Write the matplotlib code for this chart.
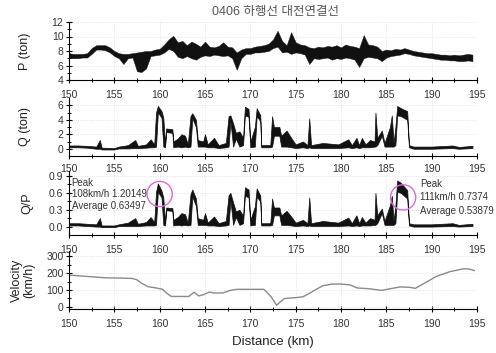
import numpy as np
import matplotlib
matplotlib.use("Agg")
import matplotlib.pyplot as plt

plt.rcParams['font.family'] = ['Liberation Sans', 'Noto Sans CJK KR', 'DejaVu Sans']

# ---- data ----
# P (ton): lower / upper edge of the noisy trace every 0.5 km
p_km = np.arange(150, 195, 0.5)
p_lo = [7.0, 7.0, 7.0, 7.1, 7.1, 7.6, 8.2, 8.2, 8.1, 7.8, 7.3, 7.0, 6.2, 7.0, 7.1, 5.2, 5.1, 5.6,
        7.3, 7.4, 7.5, 7.8, 8.3, 8.0, 7.2, 7.0, 7.3, 7.0, 6.8, 7.2, 7.4, 7.3, 7.5, 7.4, 7.3, 7.4,
        7.0, 5.4, 7.0, 7.6, 7.6, 7.8, 7.8, 7.9, 8.0, 8.4, 8.6, 7.8, 7.9, 7.6, 7.8, 7.7, 7.5, 6.2,
        7.0, 6.9, 7.0, 7.1, 6.8, 7.0, 6.9, 7.1, 7.0, 6.8, 5.8, 7.0, 7.2, 7.1, 7.0, 6.6, 7.1, 7.3,
        7.4, 7.5, 7.7, 7.6, 7.4, 7.3, 7.2, 7.1, 7.0, 6.9, 6.8, 6.8, 6.7, 6.7, 6.6, 6.6, 6.7, 6.6]
p_hi = [7.7, 7.6, 7.6, 7.6, 7.7, 8.4, 8.8, 8.8, 8.8, 8.5, 8.0, 7.7, 7.6, 7.6, 7.7, 7.8, 7.9, 8.0,
        8.0, 8.2, 8.3, 8.9, 9.6, 10.1, 9.2, 9.4, 8.8, 9.3, 9.0, 8.6, 9.3, 8.6, 8.5, 8.7, 9.2, 8.6,
        8.5, 7.8, 8.2, 8.4, 8.4, 8.6, 8.7, 8.8, 9.0, 9.6, 10.8, 9.4, 8.8, 10.6, 9.2, 8.9, 8.8, 8.5,
        8.4, 8.6, 8.5, 8.7, 8.6, 8.8, 8.5, 8.9, 8.7, 8.6, 8.4, 10.2, 8.9, 8.8, 8.6, 8.0, 8.2, 8.1,
        8.3, 8.2, 8.4, 8.2, 8.0, 7.9, 7.8, 7.7, 7.7, 7.6, 7.5, 7.5, 7.4, 7.5, 7.4, 7.5, 7.6, 7.5]

# Q (ton) and Q/P: lower / upper edge at break points of the trace
q_km = [150.0, 151.0, 152.0, 153.0, 153.4, 153.6, 155.0, 155.5, 156.5, 157.3, 157.6, 158.5,
        159.0, 159.4, 159.6, 159.8, 160.2, 160.4, 160.6, 160.7, 161.4, 161.5, 162.0, 162.4,
        162.8, 163.1, 163.4, 163.6, 164.0, 164.2, 164.8, 165.0, 165.3, 166.0, 166.5, 167.3,
        167.6, 167.8, 168.1, 168.4, 168.8, 169.2, 169.4, 169.8, 170.0, 170.5, 170.7, 171.1,
        171.2, 172.2, 172.4, 172.6, 173.2, 173.4, 174.0, 174.5, 175.0, 175.8, 176.3, 176.5,
        176.7, 178.0, 179.7, 180.8, 181.2, 181.7, 182.0, 182.3, 182.7, 183.2, 183.7, 183.8,
        184.0, 184.5, 184.8, 185.4, 185.6, 185.8, 186.0, 186.2, 186.6, 187.3, 187.5, 188.0,
        190.0, 192.3, 193.0, 194.5]
q_lo = [0.2, 0.2, 0.15, 0.0, 0.0, -0.1, -0.1, 0.05, 0.05, 0.1, 0.1, 0.15,
        0.2, 0.2, 0.3, 5.0, 4.3, 0.3, 0.2, 2.3, 2.2, 0.2, 0.3, 0.2,
        0.3, 0.2, 0.3, 4.2, 3.0, 0.3, 0.3, 0.3, 0.2, 0.2, 0.1, 0.2,
        0.3, 3.8, 0.3, 1.4, 0.3, 0.5, 4.6, 4.4, 0.2, 0.3, 4.5, 3.8,
        0.2, 0.2, 0.3, 1.8, 1.8, 0.3, 0.3, 0.2, 0.1, 0.2, 0.1, 0.2,
        0.1, 0.1, 0.1, 0.2, 0.1, 0.2, 0.1, 0.2, 0.2, 0.2, 0.3, 0.3,
        0.5, 1.8, 0.3, 0.3, 0.3, 0.3, 0.5, 4.6, 4.5, 4.0, 0.2, 0.0,
        0.0, 0.1, 0.0, 0.1]
q_hi = [0.45, 0.45, 0.4, 0.3, 1.2, 0.15, 0.1, 0.3, 0.5, 1.2, 0.4, 0.6,
        1.3, 0.6, 5.0, 5.9, 5.2, 4.3, 0.5, 2.8, 2.7, 1.0, 1.4, 2.0,
        1.8, 0.6, 4.5, 4.9, 4.0, 1.2, 1.0, 2.0, 0.6, 1.5, 0.5, 0.8,
        4.5, 4.6, 3.5, 2.2, 2.4, 1.5, 5.8, 5.5, 1.0, 3.0, 5.6, 4.6,
        0.5, 0.5, 4.5, 3.0, 3.0, 1.8, 2.5, 1.5, 0.6, 1.0, 0.5, 4.2,
        0.5, 0.8, 0.6, 1.3, 0.5, 1.5, 0.5, 1.5, 0.6, 1.2, 1.0, 5.0,
        1.5, 2.5, 0.8, 3.0, 4.6, 0.8, 3.0, 5.9, 5.6, 5.2, 0.5, 0.3,
        0.3, 0.45, 0.25, 0.4]
qp_lo = [0.02, 0.02, 0.01, 0.0, 0.0, -0.01, -0.01, 0.01, 0.01, 0.01, 0.01, 0.02,
         0.02, 0.02, 0.03, 0.62, 0.52, 0.03, 0.02, 0.29, 0.28, 0.02, 0.03, 0.02,
         0.03, 0.02, 0.03, 0.53, 0.37, 0.03, 0.03, 0.03, 0.02, 0.02, 0.01, 0.02,
         0.03, 0.47, 0.03, 0.17, 0.03, 0.06, 0.55, 0.52, 0.02, 0.03, 0.53, 0.45,
         0.02, 0.02, 0.03, 0.2, 0.2, 0.03, 0.03, 0.02, 0.01, 0.02, 0.01, 0.02,
         0.01, 0.01, 0.01, 0.02, 0.01, 0.02, 0.01, 0.02, 0.02, 0.02, 0.03, 0.03,
         0.06, 0.24, 0.03, 0.03, 0.03, 0.03, 0.06, 0.62, 0.6, 0.5, 0.02, 0.0,
         0.0, 0.01, 0.0, 0.01]
qp_hi = [0.06, 0.06, 0.05, 0.04, 0.15, 0.02, 0.02, 0.04, 0.07, 0.15, 0.05, 0.08,
         0.17, 0.08, 0.62, 0.77, 0.64, 0.52, 0.06, 0.34, 0.33, 0.12, 0.17, 0.24,
         0.22, 0.07, 0.58, 0.66, 0.5, 0.15, 0.12, 0.24, 0.07, 0.18, 0.06, 0.1,
         0.56, 0.6, 0.43, 0.27, 0.3, 0.19, 0.7, 0.66, 0.12, 0.36, 0.68, 0.55,
         0.06, 0.06, 0.5, 0.34, 0.34, 0.2, 0.28, 0.18, 0.07, 0.12, 0.06, 0.52,
         0.06, 0.1, 0.07, 0.16, 0.06, 0.2, 0.06, 0.17, 0.07, 0.15, 0.12, 0.6,
         0.2, 0.32, 0.1, 0.38, 0.55, 0.1, 0.38, 0.82, 0.78, 0.65, 0.06, 0.04,
         0.04, 0.06, 0.03, 0.05]

# Velocity (km/h)
v_km = [150, 152, 154, 156, 157, 157.5, 158, 158.7, 159.5, 160.3, 160.8, 161.3, 162.5, 163.2,
        163.8, 164.3, 164.8, 165.5, 166, 167, 167.8, 168.5, 171.5, 172.3, 172.9, 173.3, 173.8,
        175, 175.8, 176.5, 177.3, 178, 179, 180, 181, 181.8, 183, 184.5, 185.5, 186.5, 187.5,
        188.2, 189.2, 190.5, 192, 193.5, 194, 194.7]
v_kmh = [188, 180, 172, 170, 168, 160, 140, 120, 113, 105, 80, 62, 62, 62,
         87, 65, 72, 88, 82, 83, 98, 104, 104, 60, 10, 30, 50,
         55, 60, 80, 105, 125, 135, 135, 130, 112, 108, 98, 108, 118, 116,
         110, 140, 180, 208, 225, 225, 215]

peak_km = [160.0, 186.85]
peak_qp = [0.58, 0.52]
peak_left = ["Peak", "108km/h 1.20149", "Average 0.63497"]
peak_right = ["Peak", "111km/h 0.7374", "Average 0.53879"]

W, H = 496, 353
fig = plt.figure(figsize=(W / 100, H / 100), dpi=100)


def make_axes(top_px, bottom_px):
    return fig.add_axes([69 / W, 1 - bottom_px / H, (477 - 69) / W, (bottom_px - top_px) / H])


ax_p = make_axes(22, 80)
ax_q = make_axes(98, 156)
ax_qp = make_axes(171, 235)
ax_v = make_axes(251, 309)

ax_p.fill_between(p_km, p_lo, p_hi, color='#111111', lw=0.3)
ax_q.fill_between(q_km, q_lo, q_hi, color='#111111', lw=0.5)
ax_qp.fill_between(q_km, qp_lo, qp_hi, color='#111111', lw=0.5)
ax_v.plot(v_km, v_kmh, color='#8a8a8a', lw=1.0)

ax_qp.scatter(peak_km, peak_qp, s=330, facecolors='none', edgecolors='#e066e0', lw=1.0, zorder=5)

settings = [
    (ax_p, (4, 12), [4, 6, 8, 10, 12], None, 'P (ton)', -0.093, 5),
    (ax_q, (-1, 7), [0, 2, 4, 6], None, 'Q (ton)', -0.093, 3),
    (ax_qp, (-0.15, 0.99), [0.0, 0.3, 0.6, 0.9], ['0.0', '0.3', '0.6', '0.9'], 'Q/P', -0.088, 5),
    (ax_v, (-12, 330), [0, 100, 200, 300], None, 'Velocity\n(km/h)', -0.083, 5),
]
for ax, ylim, yt, ytl, lab, lx, xpad in settings:
    ax.set_xlim(150, 195)
    ax.set_ylim(*ylim)
    ax.set_xticks(range(150, 196, 5))
    ax.set_xticks(np.arange(152.5, 195, 5), minor=True)
    ax.set_yticks(yt)
    if ytl:
        ax.set_yticklabels(ytl)
    ax.set_yticks([(a + b) / 2 for a, b in zip(yt[:-1], yt[1:])], minor=True)
    ax.spines['top'].set_visible(False)
    ax.spines['right'].set_visible(False)
    ax.patch.set_alpha(0)
    ax.grid(True, which='major', color='#dcdcdc', lw=0.6, ls=':')
    ax.set_axisbelow(True)
    ax.tick_params(axis='x', which='major', pad=xpad)
    ax.tick_params(which='major', direction='inout', length=5, width=0.8,
                   labelsize=7.5, labelcolor='#333333')
    ax.tick_params(axis='y', which='major', pad=1.5)
    ax.tick_params(which='minor', direction='inout', length=3, width=0.7)
    ax.set_ylabel(lab, fontsize=9, color='#222222', linespacing=1.0)
    ax.yaxis.set_label_coords(lx, 0.5)

ax_v.set_xlabel('Distance (km)', fontsize=9.5, color='#222222', labelpad=5)

for i, t in enumerate(peak_left):
    ax_qp.text(150.3, [0.78, 0.58, 0.37][i], t, fontsize=7, color='#333333', va='center')
for i, t in enumerate(peak_right):
    ax_qp.text(188.7, [0.76, 0.52, 0.28][i], t, fontsize=7, color='#333333', va='center')

fig.text(0.555, 0.965, '0406 하행선 대전연결선', ha='center', va='center', fontsize=9, color='#555555')

fig.savefig('out.png', dpi=100)
